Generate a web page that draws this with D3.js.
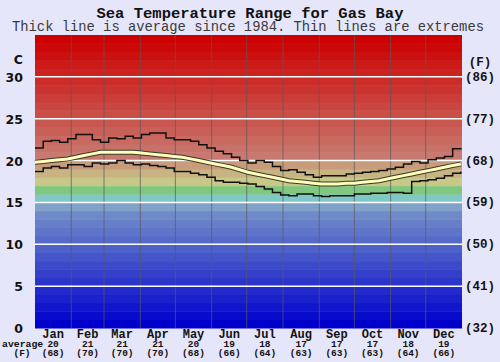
<!DOCTYPE html>
<html>
<head>
<meta charset="utf-8">
<script src="https://cdn.jsdelivr.net/npm/d3@7"></script>
<style>
  body { margin:0; background:#e6e6fa; }
  svg { display:block; }
</style>
</head>
<body>
<svg id="chart"></svg>
<script>
// months along the bottom
var months = ["Jan","Feb","Mar","Apr","May","Jun","Jul","Aug","Sep","Oct","Nov","Dec"];
var monthDays = [31,28,31,30,31,30,31,31,30,31,30,31];
var avgC = [20,21,21,21,20,19,18,17,17,17,18,19];
var avgF = [68,70,70,70,68,66,64,63,63,63,64,66];

// axis ticks
var cTicks = [0,5,10,15,20,25,30];
var fTicks = ["(32)","(41)","(50)","(59)","(68)","(77)","(86)"];

// weekly values (deg C), one per week starting Jan 1, last is year end
var maxTemp = [21.5,22.3,22.4,22.2,22.6,23.1,23.1,22.5,22.2,22.7,22.6,22.9,22.7,
  23.1,23.3,23.3,22.7,22.5,22.5,22.3,21.9,21.5,21.1,20.8,20.4,20.0,19.7,
  20.0,19.8,19.3,18.8,18.9,18.6,18.3,18.0,18.2,18.2,18.2,18.4,18.5,18.6,
  18.7,18.8,19.0,19.2,19.6,19.9,19.7,20.1,20.3,20.5,21.4,21.5];
var minTemp = [18.7,19.1,19.3,19.1,19.5,19.5,19.3,19.7,19.6,19.7,20.0,19.7,19.5,
  19.6,19.4,19.3,19.1,18.7,18.7,18.5,18.3,18.0,17.6,17.4,17.4,17.3,17.2,
  16.9,16.6,16.2,15.9,15.8,16.0,16.0,15.8,15.7,15.8,15.8,15.8,16.0,16.0,
  16.1,16.1,16.2,16.2,16.1,17.5,17.6,17.7,17.9,18.2,18.5,18.7];
var avgTemp = [19.8,19.9,20.0,20.1,20.2,20.4,20.6,20.8,21.0,21.0,21.0,21.0,21.0,
  20.9,20.8,20.7,20.6,20.5,20.4,20.2,20.0,19.8,19.6,19.4,19.2,18.9,18.6,
  18.4,18.2,18.0,17.8,17.6,17.5,17.4,17.3,17.2,17.2,17.2,17.3,17.3,17.4,
  17.5,17.6,17.8,18.0,18.2,18.4,18.6,18.8,19.0,19.2,19.4,19.6];

var screen = {width:500, height:362};
var plot = {left:35, right:462, top:35, bottom:328};

var svg = d3.select("#chart")
    .attr("width", screen.width)
    .attr("height", screen.height);

var xScale = d3.scaleLinear().domain([0,365]).range([plot.left, plot.right]);
var yScale = d3.scaleLinear().domain([0,35]).range([plot.bottom, plot.top]);

// band colour for each degree
var warm = d3.interpolateRgb("rgb(204,0,0)", "rgb(200,122,112)");
var cold = d3.interpolateRgb("rgb(0,0,204)", "rgb(112,138,200)");
var mid = {19:"rgb(200,156,122)", 18:"rgb(200,180,130)", 17:"rgb(200,200,136)",
           16:"rgb(128,200,128)", 15:"rgb(128,200,200)", 14:"rgb(128,162,200)"};
var bandColor = function(t) {
    if (t >= 20) return warm(Math.min(1, (34 - t) / 14));
    if (mid[t]) return mid[t];
    return cold(t / 13);
};

var bands = d3.range(0, 35);
svg.append("g").selectAll("rect")
    .data(bands)
    .enter().append("rect")
    .attr("x", plot.left)
    .attr("width", plot.right - plot.left)
    .attr("y", function(t){ return yScale(t + 1); })
    .attr("height", function(t){ return yScale(t) - yScale(t + 1) + 0.5; })
    .style("fill", bandColor);

// month dividers
var monthStart = [0];
monthDays.forEach(function(d, i){ monthStart.push(monthStart[i] + d); });

svg.append("g").selectAll("line")
    .data(monthStart.slice(1, 12))
    .enter().append("line")
    .attr("x1", xScale).attr("x2", xScale)
    .attr("y1", plot.top).attr("y2", plot.bottom)
    .style("stroke", "#5a5a5a")
    .style("stroke-width", 1)
    .style("opacity", 0.7);

// horizontal grid
svg.append("g").selectAll("line")
    .data(cTicks.slice(1))
    .enter().append("line")
    .attr("x1", plot.left).attr("x2", plot.right)
    .attr("y1", yScale).attr("y2", yScale)
    .style("stroke", "white")
    .style("stroke-width", 1.5);

// lines
var day = function(d, i){ return xScale(Math.min(365, i * 7)); };
var stepLine = d3.line().x(day).y(function(d){ return yScale(d); }).curve(d3.curveStepAfter);
var avgLine = d3.line().x(day).y(function(d){ return yScale(d); });

svg.append("path").attr("d", stepLine(maxTemp))
    .style("fill","none").style("stroke","#111").style("stroke-width",1.5);
svg.append("path").attr("d", stepLine(minTemp))
    .style("fill","none").style("stroke","#111").style("stroke-width",1.5);
svg.append("path").attr("d", avgLine(avgTemp))
    .style("fill","none").style("stroke","#3a3a2a").style("stroke-width",5);
svg.append("path").attr("d", avgLine(avgTemp))
    .style("fill","none").style("stroke","#ffffbb").style("stroke-width",3);

// titles
svg.append("text").text("Sea Temperature Range for Gas Bay")
    .attr("x", 250).attr("y", 18)
    .attr("text-anchor","middle")
    .style("font-family","Liberation Mono, monospace")
    .style("font-weight","bold").style("font-size","15.5px").style("fill","#111");
svg.append("text").text("Thick line is average since 1984. Thin lines are extremes")
    .attr("x", 248).attr("y", 31)
    .attr("text-anchor","middle")
    .style("font-family","Liberation Mono, monospace")
    .style("font-size","13.8px").style("fill","#3a3a3a");

// left axis
var left = svg.append("g")
    .style("font-family","DejaVu Sans, sans-serif")
    .style("font-weight","bold").style("font-size","12.5px").style("fill","#111");
left.selectAll("text.tick")
    .data(cTicks)
    .enter().append("text")
    .attr("x", 23).attr("y", function(t){ return yScale(t) + 5; })
    .attr("text-anchor","end")
    .text(function(t){ return t; });
left.append("text").text("C").attr("x", 23).attr("y", 64).attr("text-anchor","end");

// right axis
var right = svg.append("g")
    .style("font-family","Liberation Mono, monospace")
    .style("font-weight","bold").style("font-size","12.5px").style("fill","#111");
right.selectAll("text.tick")
    .data(fTicks)
    .enter().append("text")
    .attr("x", 480).attr("y", function(t, i){ return yScale(cTicks[i]) + 4; })
    .attr("text-anchor","middle")
    .text(function(t){ return t; });
right.append("text").text("(F)").attr("x", 480).attr("y", 66).attr("text-anchor","middle");

// bottom labels
var mid_x = function(d, i){ return xScale(monthStart[i] + monthDays[i] / 2); };
var bottom = svg.append("g")
    .style("font-family","Liberation Mono, monospace")
    .style("font-weight","bold").style("fill","#111");
bottom.selectAll("text.m")
    .data(months)
    .enter().append("text")
    .attr("x", mid_x).attr("y", 337.5)
    .attr("text-anchor","middle").style("font-size","12px")
    .text(function(d){ return d; });
bottom.selectAll("text.c")
    .data(avgC)
    .enter().append("text")
    .attr("x", mid_x).attr("y", 347)
    .attr("text-anchor","middle").style("font-size","9.5px")
    .text(function(d){ return d; });
bottom.selectAll("text.f")
    .data(avgF)
    .enter().append("text")
    .attr("x", mid_x).attr("y", 356)
    .attr("text-anchor","middle").style("font-size","9.5px")
    .text(function(d){ return "(" + d + ")"; });
bottom.append("text").text("average").attr("x", 2).attr("y", 347).style("font-size","9.8px");
bottom.append("text").text("(F)").attr("x", 22).attr("y", 356)
    .attr("text-anchor","middle").style("font-size","9.5px");
</script>
</body>
</html>
